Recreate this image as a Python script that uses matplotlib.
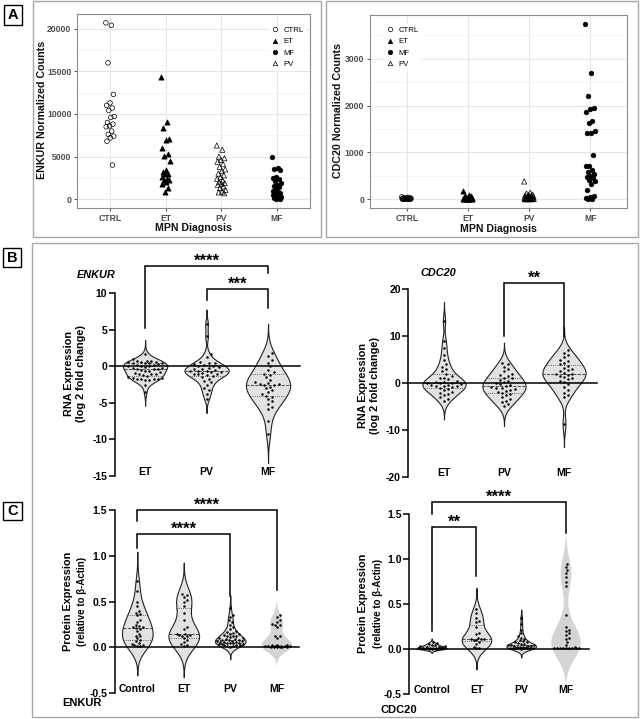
import numpy as np
import matplotlib
matplotlib.use("Agg")
import matplotlib.pyplot as plt
from matplotlib.patches import Rectangle
from matplotlib.lines import Line2D
from matplotlib.ticker import MultipleLocator
import matplotlib.transforms as mtransforms

plt.rcParams['font.family'] = ['Liberation Sans', 'DejaVu Sans']
plt.rcParams['axes.unicode_minus'] = False

# ---------------- data ----------------
# A: normalized counts by MPN diagnosis
mpn_groups = ["CTRL", "ET", "PV", "MF"]
enkur_ctrl = [20700, 20400, 16000, 12300, 11300, 11000, 10700, 10400, 9700, 9600,
              9000, 8800, 8600, 8500, 8000, 7600, 7400, 7200, 6800, 4000]
enkur_et = [14300, 9100, 8300, 7100, 6900, 6000, 5300, 5100, 4500, 3400, 3200,
            3000, 2900, 2600, 2400, 2300, 2200, 2000, 1800, 1300, 900]
enkur_pv = [6300, 5800, 5000, 4800, 4600, 4400, 4100, 3800, 3500, 3300, 3000, 2800,
            2600, 2400, 2200, 2000, 1900, 1800, 1700, 1500, 1300, 1100, 900, 800, 700]
enkur_mf = [5000, 3700, 3600, 3400, 2600, 2500, 2400, 2100, 1900, 1700, 1500, 1400,
            1200, 1000, 900, 800, 700, 600, 500, 400, 300, 200, 150, 100, 50, 0]
cdc20_ctrl = [50, 40, 35, 30, 25, 20, 20, 15, 15, 10, 10, 8, 5, 5, 3, 2, 0, 0, 0, 0]
cdc20_et = [180, 90, 70, 60, 50, 45, 40, 35, 30, 30, 25, 20, 20, 15, 10, 10, 5, 5, 0, 0, 0]
cdc20_pv = [380, 140, 120, 100, 90, 80, 70, 60, 55, 50, 45, 40, 35, 30, 25, 20, 20,
            15, 10, 10, 5, 5, 0, 0, 0, 0, 0]
cdc20_mf = [3750, 2700, 2200, 1950, 1920, 1870, 1680, 1620, 1450, 1420, 1410, 940, 720,
            700, 620, 580, 530, 500, 470, 450, 420, 380, 320, 200, 60, 40, 20, 10, 5]

# B: RNA expression (log2 fold change)
rna_groups = ["ET", "PV", "MF"]
enkur_rna_et = [1.7, 1.0, 0.8, 0.7, 0.7, 0.6, 0.6, 0.6, 0.5, 0.5, 0.5, 0.4, 0.3, 0.2, 0.2,
                0.1, 0.0, 0.0, -0.1, -0.2, -0.2, -0.3, -0.3, -0.4, -0.5, -0.6, -0.7,
                -0.8, -0.9, -1.0, -1.0, -1.1, -1.2, -1.3, -1.5, -1.6, -1.6, -1.7, -1.7,
                -1.7, -1.7, -1.8, -1.8, -2.5, -3.5]
enkur_rna_pv = [5.8, 4.1, 1.7, 1.3, 0.6, 0.5, 0.4, 0.3, 0.2, 0.1, 0.0, -0.1, -0.2, -0.3,
                -0.4, -0.5, -0.6, -0.7, -0.7, -0.8, -0.8, -0.9, -1.0, -1.0, -1.1, -1.2,
                -1.3, -1.5, -1.7, -2.0, -2.2, -2.5, -3.0, -3.3, -3.8, -4.4]
enkur_rna_mf = [1.8, 1.4, 0.9, 0.5, 0.0, -0.5, -0.8, -1.0, -1.2, -1.5, -1.8, -2.2, -2.3,
                -2.4, -2.4, -2.5, -2.6, -2.8, -3.0, -3.3, -3.5, -3.8, -4.0, -4.2, -4.5,
                -4.8, -5.2, -5.5, -5.8, -7.5, -9.2]
cdc20_rna_et = [13.2, 9.0, 7.5, 6.0, 5.0, 4.0, 3.5, 3.0, 2.5, 2.0, 1.5, 1.2, 1.0, 0.8,
                0.5, 0.3, 0.2, 0.1, 0.0, 0.0, -0.2, -0.3, -0.4, -0.5, -0.6, -0.7, -0.8,
                -1.0, -1.2, -1.5, -1.8, -2.0, -2.3, -2.6, -3.0, -3.3, -3.7]
cdc20_rna_pv = [4.3, 4.0, 3.5, 3.0, 2.5, 2.0, 1.8, 1.5, 1.2, 1.0, 0.7, 0.5, 0.3, 0.0,
                -0.2, -0.4, -0.6, -0.8, -1.0, -1.0, -1.2, -1.4, -1.6, -1.8, -2.0, -2.3,
                -2.6, -3.0, -3.3, -3.7, -4.0, -4.5, -4.8]
cdc20_rna_mf = [7.0, 6.5, 6.0, 5.5, 5.0, 4.7, 4.3, 4.0, 3.7, 3.3, 3.0, 2.8, 2.5, 2.2,
                2.0, 2.0, 1.8, 1.5, 1.3, 1.0, 0.8, 0.5, 0.2, -0.2, -0.8, -1.5, -2.0,
                -2.5, -3.0, -8.7]

# C: protein expression relative to beta-actin
prot_groups = ["Control", "ET", "PV", "MF"]
enkur_prot_ctrl = [0.72, 0.62, 0.50, 0.45, 0.40, 0.38, 0.37, 0.35, 0.30, 0.28, 0.25,
                   0.23, 0.22, 0.22, 0.21, 0.20, 0.18, 0.15, 0.13, 0.12, 0.10, 0.08,
                   0.07, 0.05, 0.04, 0.03, 0.02, 0.02, 0.03]
enkur_prot_et = [0.58, 0.57, 0.55, 0.52, 0.50, 0.45, 0.38, 0.30, 0.22, 0.20, 0.15, 0.15,
                 0.14, 0.14, 0.13, 0.12, 0.10, 0.08, 0.06, 0.04, 0.03, 0.02]
enkur_prot_pv = [0.43, 0.35, 0.33, 0.30, 0.28, 0.25, 0.22, 0.20, 0.18, 0.17, 0.16, 0.15,
                 0.15, 0.14, 0.13, 0.12, 0.12, 0.11, 0.10, 0.10, 0.09, 0.09, 0.08, 0.08,
                 0.08, 0.07, 0.07, 0.07, 0.06, 0.06, 0.06, 0.05, 0.05, 0.05, 0.05, 0.04,
                 0.04, 0.04, 0.03, 0.03, 0.03, 0.02, 0.02, 0.01]
enkur_prot_mf = [0.35, 0.33, 0.30, 0.28, 0.26, 0.25, 0.24, 0.22, 0.13, 0.12, 0.10, 0.03,
                 0.03, 0.03, 0.02, 0.02, 0.02, 0.02, 0.02, 0.02, 0.02, 0.01, 0.01, 0.01,
                 0.01, 0.01, 0.01]
cdc20_prot_ctrl = [0.08, 0.07, 0.06, 0.05, 0.05, 0.04, 0.04, 0.03, 0.03, 0.03, 0.02,
                   0.02, 0.02, 0.02, 0.01, 0.01, 0.01, 0.01, 0.01, 0.00, 0.00, 0.00, 0.00]
cdc20_prot_et = [0.45, 0.40, 0.35, 0.32, 0.30, 0.25, 0.18, 0.17, 0.13, 0.12, 0.11, 0.11,
                 0.10, 0.10, 0.08, 0.06, 0.03, 0.02, 0.01]
cdc20_prot_pv = [0.35, 0.28, 0.22, 0.18, 0.15, 0.13, 0.12, 0.10, 0.09, 0.08, 0.08, 0.07,
                 0.06, 0.06, 0.05, 0.05, 0.05, 0.04, 0.04, 0.04, 0.03, 0.03, 0.03, 0.03,
                 0.02, 0.02, 0.02, 0.02, 0.02, 0.01, 0.01, 0.01, 0.01, 0.00]
cdc20_prot_mf = [0.95, 0.92, 0.88, 0.85, 0.80, 0.75, 0.70, 0.38, 0.25, 0.22, 0.20, 0.18,
                 0.16, 0.13, 0.12, 0.08, 0.05, 0.03, 0.02, 0.02, 0.02, 0.01, 0.01, 0.01,
                 0.01, 0.01, 0.01]

# ---------------- figure ----------------
W, H = 641, 719
fig = plt.figure(figsize=(W / 100, H / 100), dpi=100)


def px_axes(x0, y0, x1, y1):
    return fig.add_axes([x0 / W, 1 - y1 / H, (x1 - x0) / W, (y1 - y0) / H])


def fx(x):
    return x / W


def fy(y):
    return 1 - y / H


def box(x0, y0, x1, y1, color, lw):
    fig.add_artist(Rectangle((fx(x0), fy(y1)), (x1 - x0) / W, (y1 - y0) / H,
                             transform=fig.transFigure, fill=False,
                             edgecolor=color, lw=lw))


def panel_letter(x0, y0, x1, y1, letter):
    fig.add_artist(Rectangle((fx(x0), fy(y1)), (x1 - x0) / W, (y1 - y0) / H,
                             transform=fig.transFigure, facecolor='white',
                             edgecolor='black', lw=1))
    fig.text(fx((x0 + x1) / 2), fy((y0 + y1) / 2), letter, ha='center', va='center',
             fontsize=10.5, fontweight='bold')


# outer frames
box(33, 1, 321, 237, '#a8a8a8', 1)
box(326, 1, 638, 237, '#a8a8a8', 1)
box(32, 243, 638, 717, '#a8a8a8', 1)
panel_letter(4, 5, 22, 25, 'A')
panel_letter(3, 248, 21, 267, 'B')
panel_letter(3, 502, 22, 520, 'C')

# ---------------- A panels ----------------
marker_style = {"CTRL": ('o', 'none', 11), "ET": ('^', 'black', 14),
                "MF": ('o', 'black', 11), "PV": ('^', 'none', 14)}


def counts_panel(rect, series, yticks, minor, legend_xy):
    ax = px_axes(*rect)
    allv = np.concatenate([np.asarray(s, float) for s in series])
    rng = allv.max() - allv.min()
    ax.set_ylim(allv.min() - 0.05 * rng, allv.max() + 0.05 * rng)
    ax.set_xlim(-0.6, 3.6)
    for i, (name, vals) in enumerate(zip(mpn_groups, series)):
        vals = np.asarray(vals, float)
        jit = ((np.arange(len(vals)) * 0.618) % 1 - 0.5) * 0.16
        m, fc, s = marker_style[name]
        ax.scatter(i + jit, vals, marker=m, s=s, facecolors=fc, edgecolors='black',
                   linewidths=0.5, zorder=3)
    ax.set_xticks(range(4))
    ax.set_xticklabels(mpn_groups)
    ax.set_yticks(yticks)
    ax.yaxis.set_minor_locator(MultipleLocator(minor))
    ax.grid(which='major', color='#e6e6e6', lw=0.8)
    ax.grid(which='minor', axis='y', color='#f0f0f0', lw=0.5)
    ax.set_axisbelow(True)
    ax.tick_params(which='major', length=2.5, width=0.6, color='#333333',
                   labelsize=6.2, labelcolor='#4d4d4d', pad=1.5)
    ax.tick_params(which='minor', length=0)
    for lab in ax.get_xticklabels() + ax.get_yticklabels():
        lab.set_fontweight('bold')
    for sp in ax.spines.values():
        sp.set_color('#8c8c8c')
        sp.set_linewidth(0.8)
    order = ["CTRL", "ET", "MF", "PV"]
    handles = [Line2D([], [], ls='none', marker=marker_style[n][0],
                      markerfacecolor=marker_style[n][1], markeredgecolor='black',
                      markeredgewidth=0.5, markersize=3.2) for n in order]
    ax.legend(handles, order, loc='upper left', bbox_to_anchor=(fx(legend_xy[0]), fy(legend_xy[1])),
              bbox_transform=fig.transFigure, frameon=True, fancybox=False,
              framealpha=1, edgecolor='none', fontsize=5.6, handlelength=0.8,
              handletextpad=0.7, labelspacing=0.5, borderpad=0.35)
    return ax


counts_panel((77, 14, 310, 208), [enkur_ctrl, enkur_et, enkur_pv, enkur_mf],
             [0, 5000, 10000, 15000, 20000], 2500, (265, 20))
counts_panel((370, 15, 627, 208), [cdc20_ctrl, cdc20_et, cdc20_pv, cdc20_mf],
             [0, 1000, 2000, 3000], 500, (380, 20))

fig.text(fx(42), fy(110), "ENKUR Normalized Counts", rotation=90, ha='center', va='center',
         fontsize=7.7, fontweight='bold', color='#111111')
fig.text(fx(338), fy(110), "CDC20 Normalized Counts", rotation=90, ha='center', va='center',
         fontsize=7.7, fontweight='bold', color='#111111')
fig.text(fx(193), fy(228), "MPN Diagnosis", ha='center', va='center',
         fontsize=7.6, fontweight='bold', color='#111111')
fig.text(fx(498), fy(229), "MPN Diagnosis", ha='center', va='center',
         fontsize=7.6, fontweight='bold', color='#111111')

# ---------------- violin helpers ----------------
def swarm_x(ax, pos, vals, d, maxw):
    # simple beeswarm in pixel space, points kept inside +-maxw px
    vals = np.asarray(vals, float)
    disp = ax.transData.transform(np.column_stack([np.full(len(vals), pos), vals]))
    ppu = ax.transData.transform([(1, 0)])[0][0] - ax.transData.transform([(0, 0)])[0][0]
    ys = disp[:, 1]
    xs = np.zeros(len(vals))
    placed = []
    for i in np.argsort(vals):
        best, best_gap = 0.0, -1.0
        k = 0
        while True:
            off = ((k + 1) // 2) * d * 0.5 * (1 if k % 2 else -1)
            if abs(off) > maxw:
                break
            gap = min([np.hypot(off - px, ys[i] - py) for px, py in placed] or [1e9])
            if gap >= d:
                best = off
                break
            if gap > best_gap:
                best, best_gap = off, gap
            k += 1
        placed.append((best, ys[i]))
        xs[i] = pos + best / ppu
    return xs


def violin(ax, pos, vals, half, bwf=0.6, face='#e2e2e2', edge='#222222', lines=True):
    v = np.asarray(vals, float)
    q1, med, q3 = np.percentile(v, [25, 50, 75])
    bw = bwf * min(v.std(), (q3 - q1) / 1.34)
    grid = np.linspace(v.min() - 3 * bw, v.max() + 3 * bw, 400)
    dens = np.exp(-0.5 * ((grid[:, None] - v[None, :]) / bw) ** 2).sum(1)
    dens = dens / dens.max() * half
    ax.fill_betweenx(grid, pos - dens, pos + dens, facecolor=face,
                     edgecolor=edge, lw=0.8 if edge != 'none' else 0, zorder=2)
    if lines:
        for q, ls in ((q1, ':'), (med, '--'), (q3, ':')):
            w = np.interp(q, grid, dens)
            ax.plot([pos - w, pos + w], [q, q], color='#333333', lw=0.6, ls=ls, zorder=3)


def bracket(ax, x0, x1, ytop, y0, y1, stars):
    ax.plot([x0, x0, x1, x1], [y0, ytop, ytop, y1], color='black', lw=1.1,
            clip_on=False, solid_joinstyle='miter', zorder=5)
    ax.text((x0 + x1) / 2, ytop, stars, ha='center', va='baseline', fontsize=12,
            fontweight='bold', clip_on=False)


def violin_panel(rect, xlim, ylim, yticks, groups, series, half, d, maxw,
                 bwf=None, plain_last=False, ytick_fmt=str):
    ax = px_axes(*rect)
    ax.set_xlim(*xlim)
    ax.set_ylim(*ylim)
    for sp in ('top', 'right', 'bottom'):
        ax.spines[sp].set_visible(False)
    ax.spines['left'].set_linewidth(1.1)
    ax.spines['left'].set_bounds(ylim[0], ylim[1])
    ax.set_yticks(yticks)
    ax.set_yticklabels([ytick_fmt(t) for t in yticks])
    ax.tick_params(axis='y', length=4, width=1.1, labelsize=7.5, pad=1.5)
    for lab in ax.get_yticklabels():
        lab.set_fontweight('bold')
    ax.set_xticks([])
    ax.axhline(0, color='black', lw=1.1, zorder=4, clip_on=False)
    bwf = bwf or [0.6] * len(series)
    for i, vals in enumerate(series):
        last = plain_last and i == len(series) - 1
        violin(ax, i, vals, half, bwf[i], face='#d4d4d4' if last else '#e2e2e2',
               edge='none' if last else '#222222', lines=not last)
        ax.scatter(swarm_x(ax, i, vals, d, maxw), vals, s=3.2, color='black', lw=0,
                   zorder=4, clip_on=False)
    off = mtransforms.offset_copy(ax.transData, fig=fig, x=0, y=4, units='dots')
    for i, g in enumerate(groups):
        ax.text(i, ylim[0], g, transform=off, ha='center', va='center',
                fontsize=7.5, fontweight='bold')
    return ax


# ---------------- B panels ----------------
axb1 = violin_panel((115, 293.3, 300, 476), (-0.49, 2.52), (-15, 10),
                    [-15, -10, -5, 0, 5, 10], rna_groups,
                    [enkur_rna_et, enkur_rna_pv, enkur_rna_mf], 0.36, 4.2, 18)
bracket(axb1, 0, 2, 13.8, 5.3, 12.8, "****")
bracket(axb1, 1, 2, 10.6, 9.1, 8.0, "***")

axb2 = violin_panel((408.3, 289, 596.7, 477.3), (-0.595, 2.545), (-20, 20),
                    [-20, -10, 0, 10, 20], rna_groups,
                    [cdc20_rna_et, cdc20_rna_pv, cdc20_rna_mf], 0.36, 4.2, 18)
bracket(axb2, 1, 2, 21.3, 10.0, 10.0, "**")

fig.text(fx(96), fy(275), "ENKUR", ha='center', va='center', fontsize=7.8,
         fontweight='bold', style='italic')
fig.text(fx(438), fy(272.5), "CDC20", ha='center', va='center', fontsize=7.8,
         fontweight='bold', style='italic')
fig.text(fx(75), fy(373), "RNA Expression\n(log 2 fold change)", rotation=90,
         ha='center', va='center', fontsize=7.8, fontweight='bold', linespacing=1.15)
fig.text(fx(369), fy(386), "RNA Expression\n(log 2 fold change)", rotation=90,
         ha='center', va='center', fontsize=7.8, fontweight='bold', linespacing=1.15)

# ---------------- C panels ----------------
def fmt1(t):
    return "%.1f" % t


axc1 = violin_panel((115, 510, 299, 693.3), (-0.48, 3.48), (-0.5, 1.5),
                    [-0.5, 0.0, 0.5, 1.0, 1.5], prot_groups,
                    [enkur_prot_ctrl, enkur_prot_et, enkur_prot_pv, enkur_prot_mf],
                    0.33, 2.9, 14, plain_last=True, ytick_fmt=fmt1)
bracket(axc1, 0, 3, 1.5, 1.375, 0.63, "****")
bracket(axc1, 0, 2, 1.24, 1.08, 0.557, "****")

axc2 = violin_panel((409.3, 514.3, 589.3, 694.3), (-0.5, 3.52), (-0.5, 1.5),
                    [-0.5, 0.0, 0.5, 1.0, 1.5], prot_groups,
                    [cdc20_prot_ctrl, cdc20_prot_et, cdc20_prot_pv, cdc20_prot_mf],
                    0.33, 2.9, 14, bwf=[0.6, 0.6, 0.6, 0.45], plain_last=True,
                    ytick_fmt=fmt1)
bracket(axc2, 0, 3, 1.64, 1.5, 1.29, "****")
bracket(axc2, 0, 1, 1.36, 0.2, 0.81, "**")

fig.text(fx(68), fy(601), "Protein Expression", rotation=90, ha='center', va='center',
         fontsize=7.8, fontweight='bold')
fig.text(fx(82), fy(601), "(relative to β-Actin)", rotation=90, ha='center', va='center',
         fontsize=7, fontweight='bold')
fig.text(fx(363), fy(603), "Protein Expression", rotation=90, ha='center', va='center',
         fontsize=7.8, fontweight='bold')
fig.text(fx(378), fy(603), "(relative to β-Actin)", rotation=90, ha='center', va='center',
         fontsize=7, fontweight='bold')
fig.text(fx(62), fy(703), "ENKUR", ha='left', va='center', fontsize=8, fontweight='bold')
fig.text(fx(380), fy(710), "CDC20", ha='left', va='center', fontsize=8, fontweight='bold')

fig.savefig("out.png", dpi=100, facecolor='white')
